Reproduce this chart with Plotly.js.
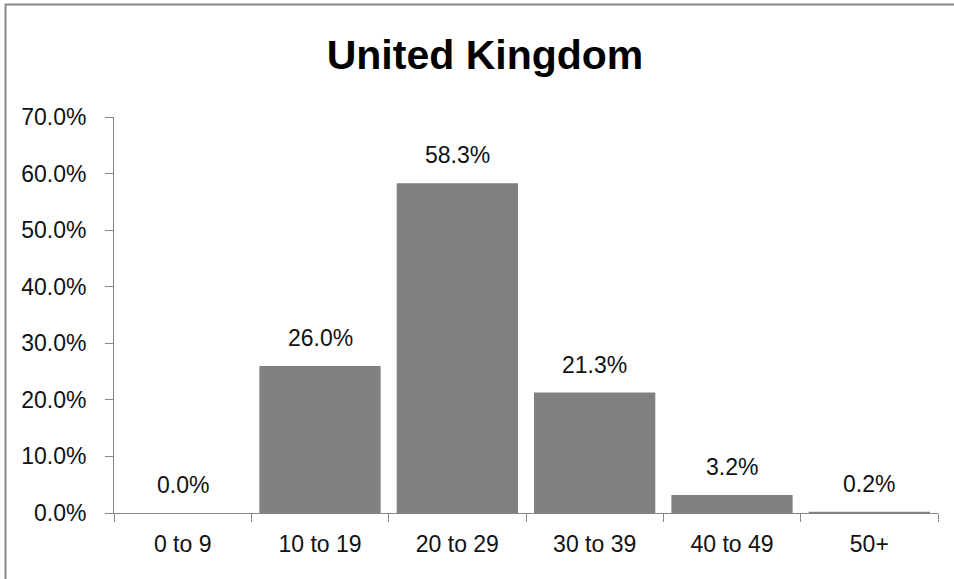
<!DOCTYPE html>
<html>
<head>
<meta charset="utf-8">
<script src="https://cdn.plot.ly/plotly-3.0.1.min.js"></script>
<style>
  html, body { margin: 0; padding: 0; background: #fff; }
  #chart { width: 954px; height: 579px; }
</style>
</head>
<body>
<div id="chart"></div>
<script>
const categories = ["0 to 9", "10 to 19", "20 to 29", "30 to 39", "40 to 49", "50+"];
const shares = [0.0, 26.0, 58.3, 21.3, 3.2, 0.2];
const chartTitle = "United Kingdom";

const FONT = "Liberation Sans, Arial, sans-serif";
const TEXT = "#111111";
const AXIS = "#868686";

const trace = {
  type: "bar",
  x: categories,
  y: shares,
  marker: { color: "#808080", line: { width: 0 } },
  hoverinfo: "skip"
};

const labels = categories.map((c, i) => ({
  x: c,
  y: shares[i],
  xref: "x",
  yref: "y",
  text: shares[i].toFixed(1) + "%",
  showarrow: false,
  xanchor: "center",
  yanchor: "bottom",
  yshift: 13,
  font: { family: FONT, size: 23, color: TEXT }
}));

const layout = {
  width: 954,
  height: 579,
  paper_bgcolor: "#ffffff",
  plot_bgcolor: "#ffffff",
  margin: { l: 114, r: 16, t: 117, b: 66, pad: 0 },
  showlegend: false,
  bargap: 0.117,
  title: {
    text: "<b>" + chartTitle + "</b>",
    font: { family: FONT, size: 41, color: "#000000" },
    x: 485 / 954,
    xref: "container",
    xanchor: "center",
    y: 1 - 55 / 579,
    yref: "container",
    yanchor: "middle"
  },
  xaxis: {
    type: "category",
    showgrid: false,
    zeroline: false,
    showline: true,
    linecolor: AXIS,
    linewidth: 1,
    ticks: "outside",
    tickson: "boundaries",
    ticklen: 8,
    tickcolor: AXIS,
    tickwidth: 1,
    ticklabelstandoff: 10,
    tickfont: { family: FONT, size: 23, color: TEXT },
    fixedrange: true
  },
  yaxis: {
    range: [0, 70],
    dtick: 10,
    tick0: 0,
    tickformat: ".1f",
    ticksuffix: "%",
    showgrid: false,
    zeroline: false,
    showline: true,
    linecolor: AXIS,
    linewidth: 1,
    ticks: "outside",
    ticklen: 8,
    tickcolor: AXIS,
    tickwidth: 1,
    ticklabelstandoff: 14,
    tickfont: { family: FONT, size: 23, color: TEXT },
    fixedrange: true
  },
  annotations: labels,
  shapes: [{
    type: "rect",
    xref: "paper",
    yref: "paper",
    x0: (5.5 - 114) / 824,
    x1: (1100 - 114) / 824,
    y0: (513 - 700) / 396,
    y1: (513 - 4.5) / 396,
    line: { color: "#888888", width: 2 },
    fillcolor: "rgba(0,0,0,0)",
    layer: "above"
  }]
};

Plotly.newPlot("chart", [trace], layout, { staticPlot: true, displayModeBar: false });
</script>
</body>
</html>
